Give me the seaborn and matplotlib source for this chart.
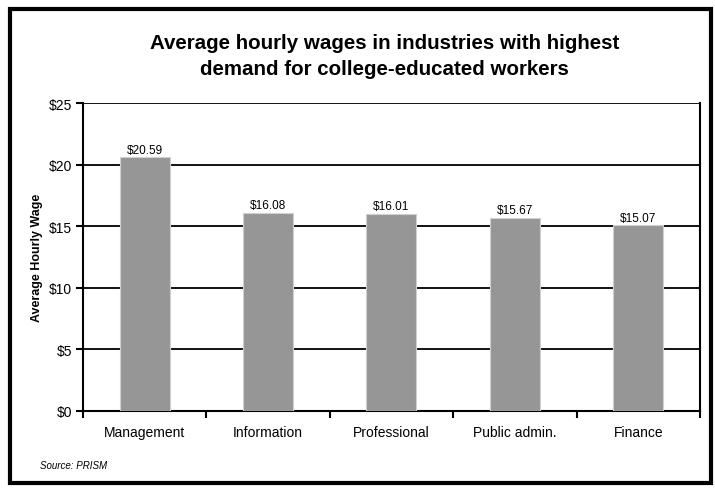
import matplotlib
matplotlib.use("Agg")
import matplotlib.pyplot as plt
import seaborn as sns
import pandas as pd
from matplotlib.patches import Rectangle
from matplotlib.ticker import FixedLocator, NullFormatter

# chart data
industries = ["Management", "Information", "Professional", "Public admin.", "Finance"]
wages = [20.59, 16.08, 16.01, 15.67, 15.07]
y_ticks = [0, 5, 10, 15, 20, 25]

df = pd.DataFrame({"Industry": industries, "Wage": wages})

sns.set_style("white")
plt.rcParams["font.family"] = ["Liberation Sans", "DejaVu Sans"]
plt.rcParams["text.color"] = "black"
plt.rcParams["axes.labelcolor"] = "black"
plt.rcParams["xtick.color"] = "black"
plt.rcParams["ytick.color"] = "black"

fig = plt.figure(figsize=(7.15, 4.89), dpi=100)
ax = fig.add_axes([0.116, 0.1575, 0.863, 0.6295])

sns.barplot(data=df, x="Industry", y="Wage", ax=ax, color="#969696",
            saturation=1, width=0.405, edgecolor="#d0d0d0", linewidth=0.8, zorder=3)

ax.set_ylim(0, 25)
ax.set_xlim(-0.5, len(industries) - 0.5)
ax.set_yticks(y_ticks)
ax.set_yticklabels([f"${t}" for t in y_ticks], fontsize=10)
ax.yaxis.grid(True, color="black", linewidth=1.3, zorder=1)
ax.set_axisbelow(True)

# category labels centred, tick marks on category boundaries
ax.set_xticks(range(len(industries)))
ax.set_xticklabels(industries, fontsize=10)
ax.tick_params(axis="x", which="major", length=0, pad=10)
ax.xaxis.set_minor_locator(FixedLocator([i - 0.5 for i in range(len(industries) + 1)]))
ax.xaxis.set_minor_formatter(NullFormatter())
ax.tick_params(axis="x", which="minor", length=5, width=1.5, direction="out", color="black", bottom=True)
ax.tick_params(axis="y", length=5, width=1.5, direction="out", color="black", left=True, pad=3)

for side in ["left", "bottom", "right"]:
    ax.spines[side].set_color("black")
    ax.spines[side].set_linewidth(1.5)
ax.spines["top"].set_visible(False)

for i, v in enumerate(wages):
    ax.text(i, v + 0.15, f"${v:.2f}", ha="center", va="bottom", fontsize=8.5, zorder=4)

ax.set_xlabel("")
ax.set_ylabel("Average Hourly Wage", fontsize=9, fontweight="bold", labelpad=4)

fig.text(0.538, 0.885, "Average hourly wages in industries with highest\ndemand for college-educated workers",
         ha="center", va="center", fontsize=14.8, fontweight="bold", linespacing=1.45)
fig.text(0.056, 0.048, "Source: PRISM", fontsize=7, style="italic", ha="left", va="center")

fig.patches.append(Rectangle((0.014, 0.01), 0.98, 0.97, transform=fig.transFigure,
                             fill=False, edgecolor="black", linewidth=3))

fig.savefig("out.png", dpi=100)
